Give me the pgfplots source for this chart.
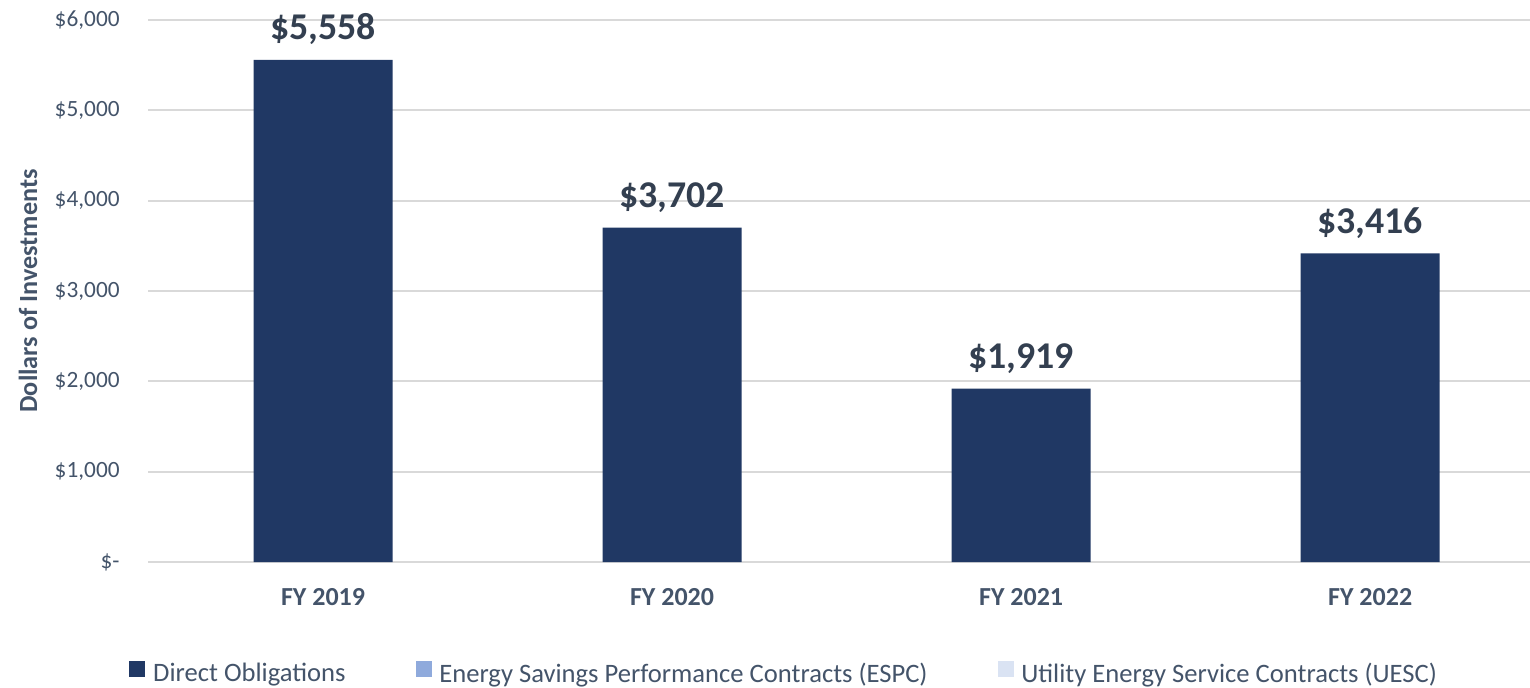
\documentclass[border=0pt]{standalone}
\usepackage{pgfplots}
\pgfplotsset{compat=1.18}
\usepackage{fontspec}
\setmainfont{Carlito}
\definecolor{navy}{HTML}{203864}
\definecolor{espc}{HTML}{8FAADC}
\definecolor{uesc}{HTML}{DAE3F3}
\definecolor{txt}{HTML}{44546A}
\definecolor{lbl}{HTML}{333F50}
\definecolor{gridc}{HTML}{D9D9D9}
\begin{document}
\begin{tikzpicture}
\begin{axis}[
  scale only axis, width=690.75pt, height=271pt,
  xmin=-0.5, xmax=3.458, ymin=0, ymax=6000,
  axis line style={draw=none},
  major tick length=0pt,
  ytick={0,1000,2000,3000,4000,5000,6000},
  yticklabels={{\$-\hspace{5pt}},{\$1,000},{\$2,000},{\$3,000},{\$4,000},{\$5,000},{\$6,000}},
  ymajorgrids, grid style={gridc, line width=1pt},
  xtick={0,1,2,3},
  xticklabels={FY 2019,FY 2020,FY 2021,FY 2022},
  xticklabel style={font=\bfseries\fontsize{13}{15}\selectfont, text=txt, anchor=base, yshift=-21.5pt, inner sep=0pt},
  yticklabel style={font=\fontsize{11.65}{14}\selectfont, text=txt, anchor=east, inner sep=0pt, xshift=-14.25pt},
  ylabel={Dollars of Investments},
  ylabel style={font=\bfseries\fontsize{13.1}{15}\selectfont, text=txt, at={(axis description cs:-0.0872,0.5)}, anchor=center},
  clip=false,
  legend style={at={(axis description cs:-0.0141,-0.2048)}, anchor=west, draw=none, fill=none, inner sep=0pt,
    font=\fontsize{13.3}{15}\selectfont, text=txt, nodes={inner sep=0pt},
    /tikz/every odd column/.append style={column sep=4pt},
    /tikz/every even column/.append style={column sep=35pt}},
  legend columns=3,
]
\addplot[ybar, bar width=69.5pt, fill=navy, draw=none, forget plot,
  nodes near coords, point meta=explicit symbolic,
  nodes near coords style={font=\bfseries\fontsize{18.9}{21}\selectfont, text=lbl, anchor=base, yshift=10pt}]
  coordinates {(0,5558) [\$5,558] (1,3702) [\$3,702] (2,1919) [\$1,919] (3,3416) [\$3,416]};
\addlegendimage{legend image code/.code={\fill[navy] (0pt,-1pt) rectangle (7.5pt,6.5pt);}}
\addlegendentry{Direct Obligations}
\addlegendimage{legend image code/.code={\fill[espc] (0pt,-1pt) rectangle (7.5pt,6.5pt);}}
\addlegendentry{Energy Savings Performance Contracts (ESPC)}
\addlegendimage{legend image code/.code={\fill[uesc] (0pt,-1pt) rectangle (7.5pt,6.5pt);}}
\addlegendentry{Utility Energy Service Contracts (UESC)}
\end{axis}
\pgfresetboundingbox
\path[use as bounding box] (-74.25pt,-62.5pt) rectangle (690.75pt,281pt);
\end{tikzpicture}
\end{document}
